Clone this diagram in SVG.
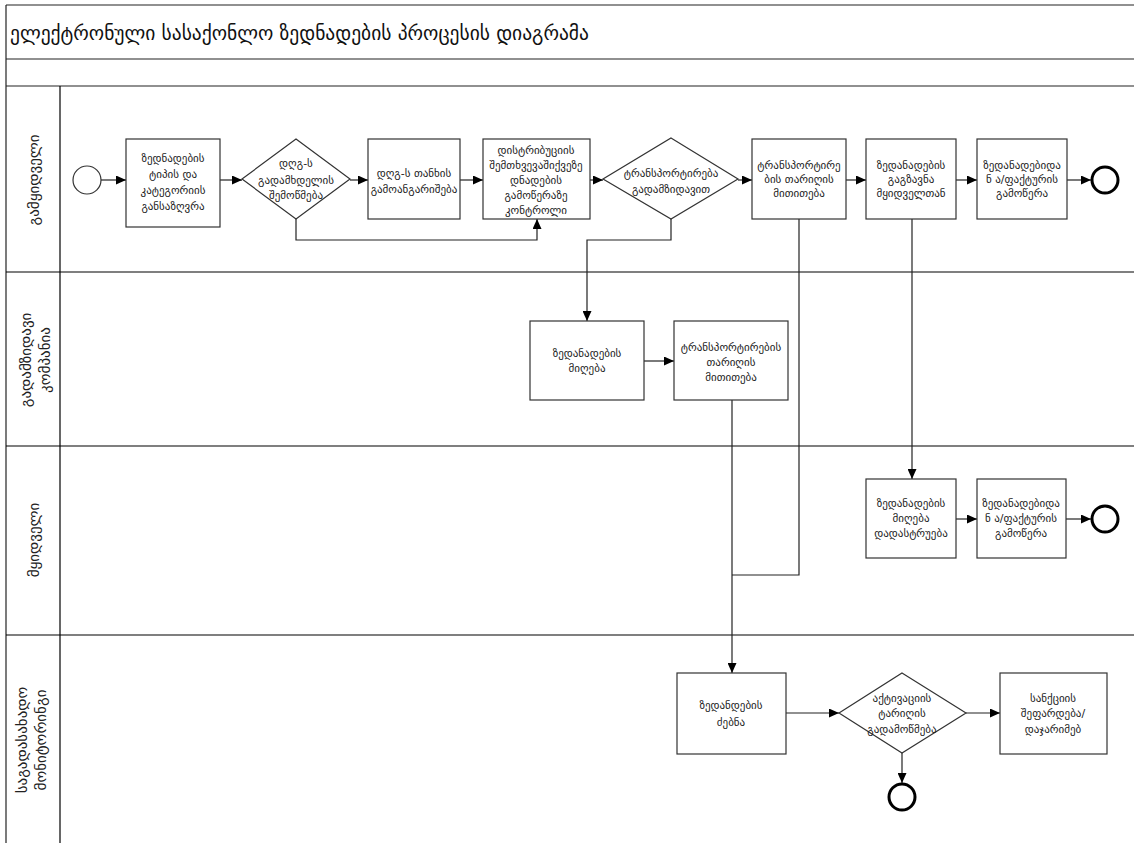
<svg xmlns="http://www.w3.org/2000/svg" width="1134" height="843" viewBox="0 0 1134 843">
<defs>
<marker id="arr" markerUnits="userSpaceOnUse" markerWidth="10" markerHeight="9" refX="10" refY="4.5" orient="auto">
<path d="M0,0 L10,4.5 L0,9 z" fill="#000"/>
</marker>
<style>
.frame{fill:none;stroke:#222;stroke-width:1.2}
.lane{fill:none;stroke:#000;stroke-width:1.2}
.box{fill:#fff;stroke:#333;stroke-width:1.2}
.conn{fill:none;stroke:#222;stroke-width:1.2;marker-end:url(#arr)}
.line{fill:none;stroke:#222;stroke-width:1.2}
.start{fill:#fff;stroke:#333;stroke-width:1.2}
.end{fill:#fff;stroke:#000;stroke-width:3}
.t{font-family:"DejaVu Sans",sans-serif;font-size:11px;fill:#222;text-anchor:middle}
.title{font-family:"DejaVu Sans",sans-serif;font-size:19.5px;fill:#111}
.ll{font-family:"DejaVu Sans",sans-serif;font-size:15px;fill:#222;text-anchor:middle}
</style>
</defs>
<rect width="1134" height="843" fill="#fff"/>
<g id="frame">
<line class="frame" x1="6" y1="5" x2="1134" y2="5"/>
<line class="frame" x1="6" y1="5" x2="6" y2="843"/>
<line class="frame" x1="6" y1="59" x2="1134" y2="59"/>
<line class="frame" x1="6" y1="86" x2="1134" y2="86"/>
<line class="lane" x1="60" y1="86" x2="60" y2="843"/>
<line class="lane" x1="6" y1="272" x2="1134" y2="272"/>
<line class="lane" x1="6" y1="446" x2="1134" y2="446"/>
<line class="lane" x1="6" y1="635" x2="1134" y2="635"/>
<text class="title" x="10" y="40">ელექტრონული სასაქონლო ზედნადების პროცესის დიაგრამა</text>
</g>
<g id="lane-labels">
<text class="ll" transform="translate(39,180) rotate(-90)">გამყიდველი</text>
<text class="ll" transform="translate(31,360) rotate(-90)">გადამზიდავი</text>
<text class="ll" transform="translate(50,360) rotate(-90)">კომპანია</text>
<text class="ll" transform="translate(39,540) rotate(-90)">მყიდველი</text>
<text class="ll" transform="translate(27,740) rotate(-90)">საგადასახადო</text>
<text class="ll" transform="translate(46,740) rotate(-90)">მონიტორინგი</text>
</g>
<g id="connectors">
<line class="conn" x1="101" y1="180" x2="126" y2="180"/>
<line class="conn" x1="220" y1="180" x2="242" y2="180"/>
<line class="conn" x1="350" y1="180" x2="368" y2="180"/>
<line class="conn" x1="460" y1="180" x2="483" y2="180"/>
<line class="conn" x1="590" y1="180" x2="603" y2="180"/>
<line class="conn" x1="738" y1="180" x2="752" y2="180"/>
<line class="conn" x1="846" y1="180" x2="866" y2="180"/>
<line class="conn" x1="956" y1="180" x2="977" y2="180"/>
<line class="conn" x1="1067" y1="180" x2="1091" y2="180"/>
<polyline class="conn" points="296,219 296,240 537,240 537,219"/>
<polyline class="conn" points="671,219 671,240 587,240 587,321"/>
<line class="conn" x1="644" y1="361" x2="674" y2="361"/>
<line class="conn" x1="732" y1="400" x2="732" y2="673"/>
<polyline class="line" points="799,219 799,575 732,575"/>
<line class="conn" x1="912" y1="219" x2="912" y2="479"/>
<line class="conn" x1="956" y1="519" x2="977" y2="519"/>
<line class="conn" x1="1066" y1="519" x2="1091" y2="519"/>
<line class="conn" x1="786" y1="713" x2="839" y2="713"/>
<line class="conn" x1="966" y1="713" x2="1000" y2="713"/>
<line class="conn" x1="902" y1="753" x2="902" y2="783"/>
</g>
<g id="start1"><circle class="start" cx="87" cy="180" r="14"/></g>
<g id="n1">
<rect class="box" x="126" y="139" width="94" height="88"/>
<text class="t" x="173" y="162">ზედნადების</text>
<text class="t" x="173" y="178">ტიპის და</text>
<text class="t" x="173" y="194">კატეგორიის</text>
<text class="t" x="173" y="210">განსაზღვრა</text>
</g>
<g id="d1">
<polygon class="box" points="296,139 350,179 296,219 242,179"/>
<text class="t" x="296" y="167">დღგ-ს</text>
<text class="t" x="296" y="184">გადამხდელის</text>
<text class="t" x="296" y="199">შემოწმება</text>
</g>
<g id="n2">
<rect class="box" x="368" y="139" width="92" height="80"/>
<text class="t" x="414" y="177">დღგ-ს თანხის</text>
<text class="t" x="414" y="193">გამოანგარიშება</text>
</g>
<g id="n3">
<rect class="box" x="483" y="139" width="107" height="80"/>
<text class="t" x="536" y="154">დისტრიბუციის</text>
<text class="t" x="536" y="169">შემთხვევაშიქვეზე</text>
<text class="t" x="536" y="184">დნადების</text>
<text class="t" x="536" y="199">გამოწერაზე</text>
<text class="t" x="536" y="214">კონტროლი</text>
</g>
<g id="d2">
<polygon class="box" points="671,138 738,179 671,219 603,179"/>
<text class="t" x="671" y="177">ტრანსპორტირება</text>
<text class="t" x="671" y="193">გადამზიდავით</text>
</g>
<g id="n4">
<rect class="box" x="752" y="139" width="94" height="80"/>
<text class="t" x="799" y="169">ტრანსპორტირე</text>
<text class="t" x="799" y="183">ბის თარიღის</text>
<text class="t" x="799" y="197">მითითება</text>
</g>
<g id="n5">
<rect class="box" x="866" y="139" width="90" height="80"/>
<text class="t" x="911" y="169">ზედანადების</text>
<text class="t" x="911" y="183">გაგზავნა</text>
<text class="t" x="911" y="197">მყიდველთან</text>
</g>
<g id="n6">
<rect class="box" x="977" y="139" width="90" height="80"/>
<text class="t" x="1022" y="169">ზედანადებიდა</text>
<text class="t" x="1022" y="183">ნ ა/ფაქტურის</text>
<text class="t" x="1022" y="197">გამოწერა</text>
</g>
<g id="end1"><circle class="end" cx="1105" cy="180" r="13"/></g>
<g id="n7">
<rect class="box" x="530" y="321" width="114" height="79"/>
<text class="t" x="587" y="357">ზედანადების</text>
<text class="t" x="587" y="372">მიღება</text>
</g>
<g id="n8">
<rect class="box" x="674" y="321" width="114" height="79"/>
<text class="t" x="731" y="351">ტრანსპორტირების</text>
<text class="t" x="731" y="366">თარიღის</text>
<text class="t" x="731" y="381">მითითება</text>
</g>
<g id="n9">
<rect class="box" x="866" y="479" width="90" height="79"/>
<text class="t" x="911" y="507">ზედანადების</text>
<text class="t" x="911" y="522">მიღება</text>
<text class="t" x="911" y="537">დადასტრუება</text>
</g>
<g id="n10">
<rect class="box" x="977" y="479" width="89" height="79"/>
<text class="t" x="1021" y="507">ზედანადებიდა</text>
<text class="t" x="1021" y="522">ნ ა/ფაქტურის</text>
<text class="t" x="1021" y="537">გამოწერა</text>
</g>
<g id="end2"><circle class="end" cx="1105" cy="519" r="13"/></g>
<g id="n11">
<rect class="box" x="677" y="673" width="109" height="81"/>
<text class="t" x="731" y="709">ზედანდების</text>
<text class="t" x="731" y="726">ძებნა</text>
</g>
<g id="d3">
<polygon class="box" points="902,673 966,713 902,753 839,713"/>
<text class="t" x="902" y="702">აქტივაციის</text>
<text class="t" x="902" y="717">ტარიღის</text>
<text class="t" x="902" y="733">გადამოწმება</text>
</g>
<g id="n12">
<rect class="box" x="1000" y="673" width="107" height="81"/>
<text class="t" x="1053" y="702">სანქციის</text>
<text class="t" x="1053" y="717">შეფარდება/</text>
<text class="t" x="1053" y="733">დაჯარიმებ</text>
</g>
<g id="end3"><circle class="end" cx="902" cy="797" r="13"/></g>
</svg>
